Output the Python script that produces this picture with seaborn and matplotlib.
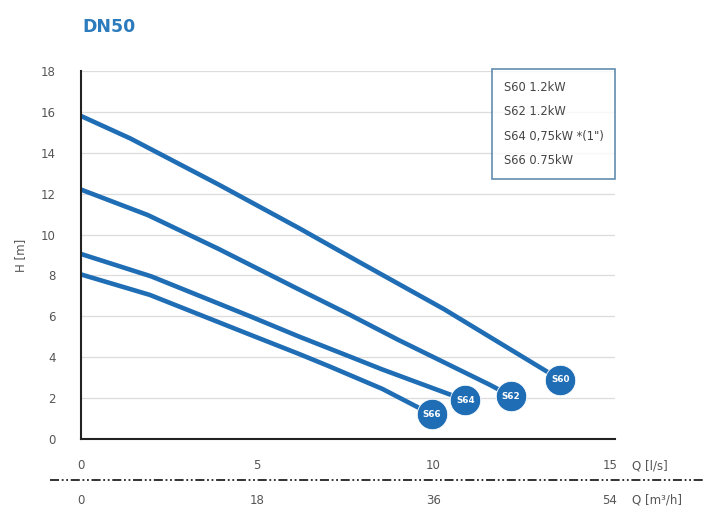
import matplotlib
matplotlib.use("Agg")
import matplotlib.pyplot as plt
from matplotlib.lines import Line2D
import seaborn as sns
import pandas as pd

# ---- data ----
series = ["S60", "S62", "S64", "S66"]
legend_labels = ["S60 1.2kW", "S62 1.2kW", 'S64 0,75kW *(1")', "S66 0.75kW"]

q_s60 = [0.0, 1.4, 3.9, 6.2, 7.9, 10.3, 13.6]
h_s60 = [15.8, 14.7, 12.45, 10.3, 8.65, 6.35, 2.9]

q_s62 = [0.0, 1.9, 3.9, 6.2, 7.6, 9.0, 11.6, 12.2]
h_s62 = [12.2, 10.95, 9.3, 7.3, 6.1, 4.85, 2.65, 2.1]

q_s64 = [0.0, 2.0, 4.8, 6.2, 7.6, 8.55, 10.9]
h_s64 = [9.05, 7.95, 6.0, 5.0, 4.05, 3.4, 1.9]

q_s66 = [0.0, 1.95, 4.8, 6.2, 7.05, 8.55, 9.95]
h_s66 = [8.05, 7.05, 5.1, 4.15, 3.55, 2.45, 1.2]

x_ticks = [0, 5, 10, 15]
x2_ticks = [0, 18, 36, 54]
y_ticks = [0, 2, 4, 6, 8, 10, 12, 14, 16, 18]

rows = []
for name, qs, hs in zip(series, [q_s60, q_s62, q_s64, q_s66],
                        [h_s60, h_s62, h_s64, h_s66]):
    for q, h in zip(qs, hs):
        rows.append({"series": name, "Q": q, "H": h})
df = pd.DataFrame(rows)

BLUE = "#1f6db4"
TXT = "#555555"

sns.set_theme(style="white")
plt.rcParams["font.family"] = ["DejaVu Sans"]

fig = plt.figure(figsize=(7.16, 5.09), dpi=100)
ax = fig.add_axes([81 / 716, 1 - 439 / 509, 534 / 716, 368 / 509])

sns.lineplot(data=df, x="Q", y="H", units="series", estimator=None,
             sort=False, color=BLUE, lw=3.3, ax=ax, solid_capstyle="round",
             solid_joinstyle="round")

ends = df.groupby("series", sort=False).last().reset_index()
sns.scatterplot(data=ends, x="Q", y="H", color=BLUE, s=480,
                edgecolor="white", linewidth=0.6, ax=ax, zorder=5, legend=False)
for _, r in ends.iterrows():
    ax.text(r["Q"], r["H"], r["series"], color="white", fontsize=6.3,
            fontweight="bold", ha="center", va="center", zorder=6)

ax.set_xlim(0, 15.15)
ax.set_ylim(0, 18)
ax.set_yticks(y_ticks)
ax.set_xticks(x_ticks)
ax.set_xlabel("")
ax.set_ylabel("H [m]", fontsize=8.5, color=TXT, labelpad=10)
ax.yaxis.grid(True, color="#dcdcdc", lw=0.9)
ax.xaxis.grid(False)
for s in ["top", "right"]:
    ax.spines[s].set_visible(False)
for s in ["left", "bottom"]:
    ax.spines[s].set_color("#222222")
    ax.spines[s].set_linewidth(1.5)
ax.tick_params(axis="y", length=0, pad=18, labelsize=8.5, labelcolor=TXT)
ax.tick_params(axis="x", length=3, width=0.5, color="#cccccc", pad=11.5,
               labelsize=8.5, labelcolor=TXT)

sec = ax.secondary_xaxis("bottom", functions=(lambda x: x * 3.6, lambda x: x / 3.6))
sec.set_xticks(x2_ticks)
sec.tick_params(axis="x", length=0, pad=39.5, labelsize=8.5, labelcolor=TXT)
sec.spines["bottom"].set_visible(False)

fig.text(632 / 716, 1 - 466 / 509, "Q [l/s]", fontsize=8.5, color=TXT,
         ha="left", va="center")
fig.text(632 / 716, 1 - 500 / 509, "Q [m³/h]", fontsize=8.5, color=TXT,
         ha="left", va="center")
fig.add_artist(Line2D([50 / 716, 705 / 716], [1 - 480 / 509, 1 - 480 / 509],
                      transform=fig.transFigure, color="#222222", lw=1.3,
                      linestyle=(0, (5, 1.5, 1, 1.5, 1, 1.5))))

fig.text(82 / 716, 1 - 27 / 509, "DN50", fontsize=12.5, fontweight="bold",
         color="#2b7bbd", ha="left", va="center")

handles = [Line2D([], [], lw=0, marker=None) for _ in legend_labels]
leg = ax.legend(handles, legend_labels, loc="upper right",
                bbox_to_anchor=(1.0, 1.005), handlelength=0, handletextpad=0,
                fontsize=8.3, labelspacing=1.0, borderpad=1.0,
                borderaxespad=0, frameon=True, fancybox=False, labelcolor="#444444")
leg.get_frame().set_edgecolor("#3a6f9a")
leg.get_frame().set_linewidth(1.2)

fig.savefig("out.png", dpi=100)
